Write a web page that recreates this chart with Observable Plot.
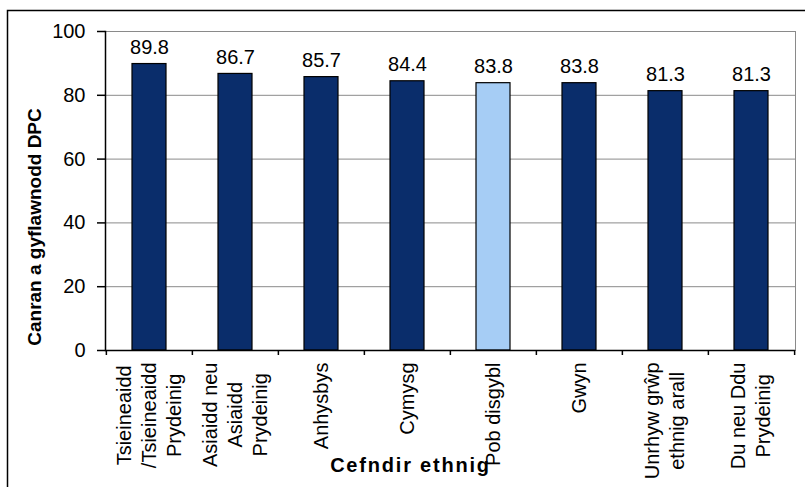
<!DOCTYPE html>
<html>
<head>
<meta charset="utf-8">
<script src="https://cdn.jsdelivr.net/npm/d3@7"></script>
<script src="https://cdn.jsdelivr.net/npm/@observablehq/plot@0.6"></script>
<style>
  html, body { margin: 0; padding: 0; background: white; }
  #chart svg > g:last-child text { letter-spacing: 1.8px; }
</style>
</head>
<body>
<div id="chart"></div>
<script>
const categories = [
  "Tsieineaidd\n/Tsieineaidd\nPrydeinig",
  "Asiaidd neu\nAsiaidd\nPrydeinig",
  "Anhysbys",
  "Cymysg",
  "Pob disgybl",
  "Gwyn",
  "Unrhyw grŵp\nethnig arall",
  "Du neu Ddu\nPrydeinig"
];
const values = [89.8, 86.7, 85.7, 84.4, 83.8, 83.8, 81.3, 81.3];
const highlight = "Pob disgybl";
const yTicks = [0, 20, 40, 60, 80, 100];
const yTitle = "Canran a gyflawnodd DPC";
const xTitle = "Cefndir ethnig";

const data = categories.map((c, i) => ({cat: c, value: values[i]}));

const W = 805, H = 487;
const mL = 105, mR = 10, mT = 31, mB = 137;
const step = (W - mL - mR) / categories.length;

const labelFont = 20;
const lineGap = 25;
const ctx = document.createElement("canvas").getContext("2d");
ctx.font = `${labelFont}px "Liberation Sans", Arial, sans-serif`;

// x tick labels: one text mark per line, lines centred within their block, block top-anchored
const labelMarks = categories.flatMap((c) => {
  const lines = c.split("\n");
  const maxW = Math.max(...lines.map((l) => ctx.measureText(l).width));
  return lines.map((l, j) => Plot.text([l], {
    x: () => c,
    text: (d) => d,
    frameAnchor: "bottom",
    rotate: -90,
    textAnchor: "middle",
    lineAnchor: "middle",
    dx: (j - (lines.length - 1) / 2) * lineGap,
    dy: 12 + maxW / 2,
    fontSize: labelFont,
    fill: "black"
  }));
});

const chart = Plot.plot({
  width: W,
  height: H,
  marginLeft: mL,
  marginRight: mR,
  marginTop: mT,
  marginBottom: mB,
  style: {fontFamily: '"Liberation Sans", Arial, sans-serif', background: "white", color: "black"},
  x: {domain: categories, paddingInner: 0.6, paddingOuter: 0.3, label: null},
  y: {domain: [0, 100], label: null},
  color: {type: "identity"},
  marks: [
    Plot.frame({stroke: "black", strokeWidth: 1.5, insetLeft: -98, insetTop: -21, insetRight: -40, insetBottom: -200}),
    Plot.ruleY(yTicks.slice(1), {stroke: "#8a8a8a", strokeWidth: 1}),
    Plot.frame({anchor: "right", stroke: "#8a8a8a", strokeWidth: 1}),
    Plot.barY(data, {
      x: "cat",
      y: "value",
      fill: (d) => d.cat === highlight ? "#a6cdf5" : "#0a2d6b",
      stroke: "black",
      strokeWidth: 1.2
    }),
    Plot.ruleY([0], {stroke: "black", strokeWidth: 1.5}),
    Plot.frame({anchor: "left", stroke: "black", strokeWidth: 1.5}),
    Plot.axisY(yTicks, {tickSize: 8, tickPadding: 12, fontSize: 20, label: null, strokeWidth: 1.5}),
    Plot.axisX({tickSize: 5, tickFormat: () => "", dx: -step / 2, label: null, strokeWidth: 1.5}),
    Plot.axisX([categories[categories.length - 1]], {tickSize: 5, tickFormat: () => "", dx: step / 2, label: null, strokeWidth: 1.5}),
    ...labelMarks,
    Plot.text(data, {
      x: "cat",
      y: "value",
      text: (d) => d.value.toFixed(1),
      dy: -10,
      lineAnchor: "bottom",
      fontSize: 20,
      fill: "black"
    }),
    Plot.text([yTitle], {
      frameAnchor: "left",
      rotate: -90,
      textAnchor: "middle",
      dx: -71,
      dy: 36,
      fontSize: 19,
      fontWeight: "bold",
      fill: "black"
    }),
    Plot.text([xTitle], {
      frameAnchor: "bottom",
      textAnchor: "middle",
      dx: -40,
      dy: 121,
      fontSize: 20,
      fontWeight: "bold",
      fill: "black"
    })
  ]
});

document.getElementById("chart").appendChild(chart);
</script>
</body>
</html>
